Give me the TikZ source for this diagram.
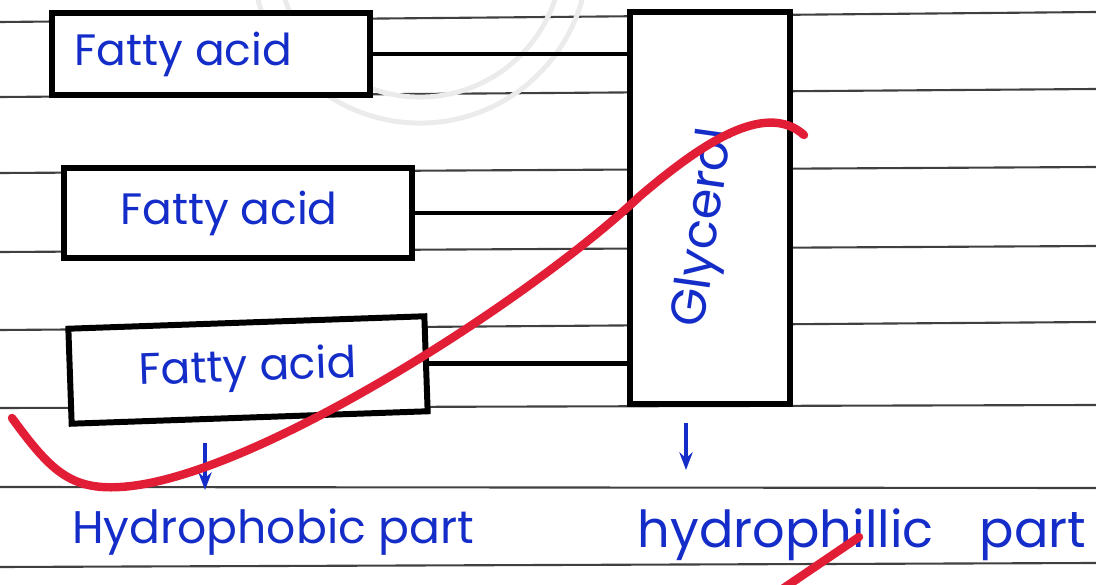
\documentclass[tikz,border=0pt]{standalone}
\usepackage{fontspec}
\newfontfamily\hand{Poppins}
\usetikzlibrary{arrows.meta}
\definecolor{ink}{RGB}{20,45,200}
\definecolor{marker}{RGB}{226,30,55}

\begin{document}
\begin{tikzpicture}[x=0.01cm, y=-0.01cm,
  rule/.style={black!75, line width=0.6pt},
  stamp/.style={black!8, line width=1.4pt},
  fabox/.style={draw, line width=1.7pt, inner sep=0pt, text=ink, font=\hand\fontsize{12.5}{14}\selectfont},
  lbl/.style={text=ink, font=\hand\fontsize{13}{15}\selectfont},
  bond/.style={line width=1.3pt},
  down/.style={ink, line width=1.3pt, -{Stealth[length=5pt]}},
  pen/.style={marker, line width=2.4pt, line cap=round}]
\useasboundingbox (0,0) rectangle (1096,585);
% ruled page and the faded stamp
\foreach \l/\r in {22/12, 97/89, 173/167, 252/246, 330/322, 408/405, 487/488, 567/563}
  \draw[rule] (0,\l) -- (1096,\r);
\draw[stamp] (420,-45) circle[radius=1.68cm];
\draw[stamp] (420,-45) circle[radius=1.42cm];
% triglyceride
\node[fabox, fill=white, minimum width=3.17cm, minimum height=0.82cm] (fa1) at (211,54) {Fatty acid\hspace*{0.55cm}};
\node[fabox, fill=white, minimum width=3.47cm, minimum height=0.9cm] (fa2) at (238,213) {Fatty acid\hspace*{0.18cm}};
\node[fabox, fill=white, minimum width=3.56cm, minimum height=0.95cm, rotate=2] (fa3) at (248,370) {Fatty acid};
\node[draw, fill=white, line width=1.7pt, minimum width=1.6cm, minimum height=3.92cm] (gly) at (710,208) {};
\node[lbl, font=\hand\fontsize{14}{16}\selectfont, rotate=82] (glyt) at (706,228) {Glycerol};
\draw[bond] (fa1.east) -- (fa1.east -| gly.west);
\draw[bond] (fa2.east) -- (fa2.east -| gly.west);
\draw[bond] (fa3.east) -- (fa3.east -| gly.west);
% the two parts
\coordinate (d1a) at (205,443);
\coordinate (d1b) at (205,490);
\coordinate (d2a) at (686,423);
\coordinate (d2b) at (686,470);
\draw[down] (d1a) -- (d1b);
\draw[down] (d2a) -- (d2b);
\node[lbl] (phob) at (273,532) {Hydrophobic part};
\node[lbl, font=\hand\fontsize{14.5}{16}\selectfont] (phil) at (862,535) {hydrophillic\hspace{0.9em}part};
% red pen marks
\draw[pen] (12,418) .. controls (50,470) and (70,490) .. (120,487) .. controls (250,480) and (530,300) .. (640,196) .. controls (700,145) and (765,100) .. (804,135);
\draw[pen] (778,592) -- (859,537);
\end{tikzpicture}
\end{document}
